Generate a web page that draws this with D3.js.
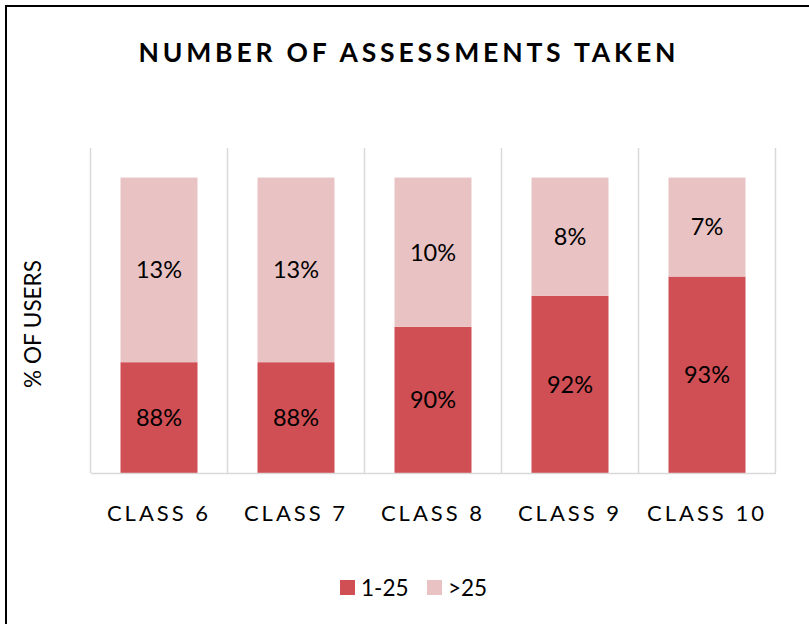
<!DOCTYPE html>
<html>
<head>
<meta charset="utf-8">
<script src="https://cdn.jsdelivr.net/npm/d3@7"></script>
<style>
  body { margin: 0; background: #fff; }
  svg { display: block; font-family: Lato, "Open Sans", sans-serif; }
</style>
</head>
<body>
<svg id="chart" width="809" height="624"></svg>
<script>
const classes = ["CLASS 6", "CLASS 7", "CLASS 8", "CLASS 9", "CLASS 10"];
const low = [87.5, 87.5, 89.9, 92.0, 93.3];     // 1-25
const high = [12.5, 12.5, 10.1, 8.0, 6.7];      // >25
const seriesNames = ["1-25", ">25"];
const colors = ["#CF4F55", "#E9C3C4"];

const svg = d3.select("#chart");

// frame (only top and left visible)
svg.append("rect")
    .attr("x", 6).attr("y", 6)
    .attr("width", 900).attr("height", 900)
    .attr("fill", "none").attr("stroke", "#000").attr("stroke-width", 2);

svg.append("text")
    .attr("x", 407).attr("y", 62)
    .attr("text-anchor", "middle")
    .attr("font-size", 26.5).attr("font-weight", "bold")
    .attr("textLength", 537).attr("lengthAdjust", "spacing")
    .text("NUMBER OF ASSESSMENTS TAKEN");

const x = d3.scaleBand().domain(classes).range([90.5, 775.5])
    .paddingInner(0.438).paddingOuter(0.219);
const xs = d3.scaleBand().domain(classes).range([90.5, 775.5]);
const y = d3.scaleLinear().domain([80, 102]).range([473, 148]);

// category separators
const seps = classes.map(c => xs(c)).concat([xs.range()[1]]);
svg.append("g").selectAll("line").data(seps).enter().append("line")
    .attr("x1", d => d).attr("x2", d => d)
    .attr("y1", y(102)).attr("y2", y(80))
    .attr("stroke", "#D9D9D9").attr("stroke-width", 1.5);

const rows = classes.map((c, i) => ({cls: c, "1-25": low[i], ">25": high[i]}));
const stacked = d3.stack().keys(seriesNames)(rows);

const layer = svg.append("g").selectAll("g").data(stacked).enter().append("g")
    .attr("fill", (d, i) => colors[i]);

layer.selectAll("rect").data(d => d).enter().append("rect")
    .attr("x", d => x(d.data.cls))
    .attr("width", x.bandwidth())
    .attr("y", d => y(d[1]))
    .attr("height", d => y(Math.max(d[0], 80)) - y(d[1]));

layer.selectAll("text").data(d => d).enter().append("text")
    .attr("x", d => x(d.data.cls) + x.bandwidth() / 2)
    .attr("y", d => (y(Math.max(d[0], 80)) + y(d[1])) / 2)
    .attr("dy", "0.36em")
    .attr("text-anchor", "middle")
    .attr("font-size", 23.5).attr("fill", "#000")
    .text(d => Math.round(d[1] - d[0]) + "%");

// x axis
const xaxis = svg.append("g")
    .attr("transform", "translate(0," + y(80) + ")")
    .call(d3.axisBottom(xs).tickSize(0).tickPadding(32));
xaxis.select(".domain").attr("stroke", "#D9D9D9").attr("stroke-width", 1.5);
xaxis.selectAll("text")
    .attr("font-size", 22).attr("font-family", "Lato, sans-serif")
    .attr("letter-spacing", 3).attr("fill", "#000");

svg.append("text")
    .attr("transform", "translate(41,324) rotate(-90)")
    .attr("text-anchor", "middle")
    .attr("font-size", 22.5)
    .text("% OF USERS");

// legend
const legend = svg.append("g").selectAll("g").data(seriesNames).enter().append("g")
    .attr("transform", (d, i) => "translate(" + [340, 427][i] + ",580)");
legend.append("rect").attr("width", 15).attr("height", 15)
    .attr("fill", (d, i) => colors[i]);
legend.append("text").attr("x", 21).attr("y", 15.5)
    .attr("font-size", 22.5).text(d => d);
</script>
</body>
</html>
